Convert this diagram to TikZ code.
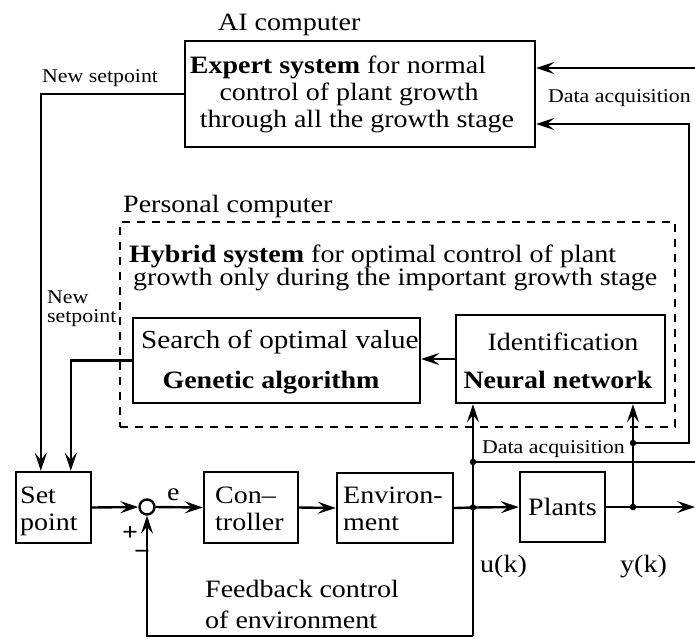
\documentclass[tikz,border=0pt]{standalone}
\usepackage{fontspec}
\setmainfont{Liberation Serif}[FakeStretch=1.12]
\usetikzlibrary{arrows.meta,calc}
\tikzset{
  box/.style={draw,line width=2.4pt,inner sep=0pt,rectangle},
  pcbox/.style={draw,line width=1.5pt,dash pattern=on 8pt off 7pt,inner sep=0pt,rectangle},
  big/.style={font=\fontsize{25}{27}\selectfont,inner sep=0pt},
  small/.style={font=\fontsize{19.5}{21}\selectfont,inner sep=0pt},
  conn/.style={line width=2.4pt},
  arr/.style={line width=2.4pt,-{Stealth[length=18pt,width=12pt,inset=7pt]}},
  dot/.style={circle,fill,inner sep=0pt,minimum size=6.5pt}
}
\begin{document}
\begin{tikzpicture}[x=1pt,y=-1pt]
\useasboundingbox (0,0) rectangle (695,638);
% boxes
\node[box,minimum width=350pt,minimum height=106pt] (ai) at (360,94) {};
\node[pcbox,minimum width=555pt,minimum height=205pt] (pc) at (397.5,324.5) {};
\node[box,minimum width=287pt,minimum height=85pt] (ga) at (276.5,360.5) {};
\node[box,minimum width=209pt,minimum height=88pt] (nn) at (560.5,359) {};
\node[box,minimum width=75pt,minimum height=71pt] (sp) at (53.5,507.5) {};
\node[circle,draw,line width=2.4pt,minimum size=15pt,inner sep=0pt] (sum) at (147,507) {};
\node[box,minimum width=94pt,minimum height=71pt] (ctrl) at (251,507.5) {};
\node[box,minimum width=116pt,minimum height=70pt] (env) at (395,508) {};
\node[box,minimum width=85pt,minimum height=70pt] (pl) at (562.5,507) {};
% texts
\node[big,anchor=base west] (aititle) at (218,30) {AI computer};
\node[big,anchor=base] (ai1) at (338,73) {\textbf{Expert system} for normal};
\node[big,anchor=base] (ai2) at (349,100) {control of plant growth};
\node[big,anchor=base] (ai3) at (357,127) {through all the growth stage};
\node[small,anchor=base west] (ns1) at (42,82) {New setpoint};
\node[small,anchor=base west] (da1) at (548,102) {Data acquisition};
\node[big,anchor=base west] (pctitle) at (123,212) {Personal computer};
\node[big,anchor=base west] (hy1) at (129,262) {\textbf{Hybrid system} for optimal control of plant};
\node[big,anchor=base west] (hy2) at (133,285) {growth only during the important growth stage};
\node[small,anchor=base west] (ns2a) at (47,303) {New};
\node[small,anchor=base west] (ns2b) at (47,322) {setpoint};
\node[big,anchor=base west,font=\fontsize{26}{28}\selectfont] (ga1) at (141,348) {Search of optimal value};
\node[big,anchor=base] (ga2) at (271,388) {\textbf{Genetic algorithm}};
\node[big,anchor=base] (nn1) at (563,350) {Identification};
\node[big,anchor=base] (nn2) at (558,388) {\textbf{Neural network}};
\node[big,anchor=base west] (sp1) at (20,503) {Set};
\node[big,anchor=base west] (sp2) at (20,530) {point};
\node[big,anchor=base west] (c1) at (215,503) {Con–};
\node[big,anchor=base west] (c2) at (215,530) {troller};
\node[big,anchor=base west] (e1) at (343,503) {Environ-};
\node[big,anchor=base west] (e2) at (343,530) {ment};
\node[big,anchor=base west] (p1) at (528,515) {Plants};
\node[big,anchor=base west] (uk) at (480,572) {u(k)};
\node[big,anchor=base west] (yk) at (620,572) {y(k)};
\node[small,anchor=base west] (da2) at (482,453) {Data acquisition};
\node[big,anchor=base west] (fb1) at (205,597) {Feedback control};
\node[big,anchor=base west] (fb2) at (205,628) {of environment};
\node[big,anchor=base west] (elab) at (167,500) {e};
\node[big] (plus) at (130,533) {\textbf{+}};
\node[big] (minus) at (142,555) {\textbf{−}};
% connectors top
\draw[arr] (ai.west) -| ([xshift=26pt]sp.north west);
\draw[arr] (ga.west) -| ([xshift=56pt]sp.north west);
\draw[arr] (nn.west) -- (nn.west -| ga.east);
\coordinate (inA) at (695,68);
\draw[arr] (inA) -- (inA -| ai.east);
\coordinate (rT) at (689,124);
\coordinate (rB) at (689,443);
\node[dot] (yd2) at (633,443) {};
\draw[arr] (yd2.center) -- (rB) -- (rT) -- (ai.east |- rT);
% bottom loop
\draw[arr] (sp.east) -- (sum.west);
\draw[arr] (sum.east) -- (ctrl.west);
\draw[arr] (ctrl.east) -- (env.west);
\node[dot] (ud) at (473,507.5) {};
\draw[conn] (env.east) -- (ud.center);
\draw[arr] (ud.center) -- (pl.west);
\node[dot] (yd) at (633,507) {};
\coordinate (out) at (695,507);
\draw[arr] (pl.east) -- (out);
\coordinate (ub) at (473,636);
\draw[arr] (ub) -- (ub |- nn.south);
\draw[arr] (yd.center) -- (yd.center |- nn.south);
\draw[arr] (ub) -| (sum.south);
\node[dot] (dd) at (473,462) {};
\coordinate (dr) at (695,462);
\draw[conn] (dd.center) -- (dr);
\end{tikzpicture}
\end{document}
